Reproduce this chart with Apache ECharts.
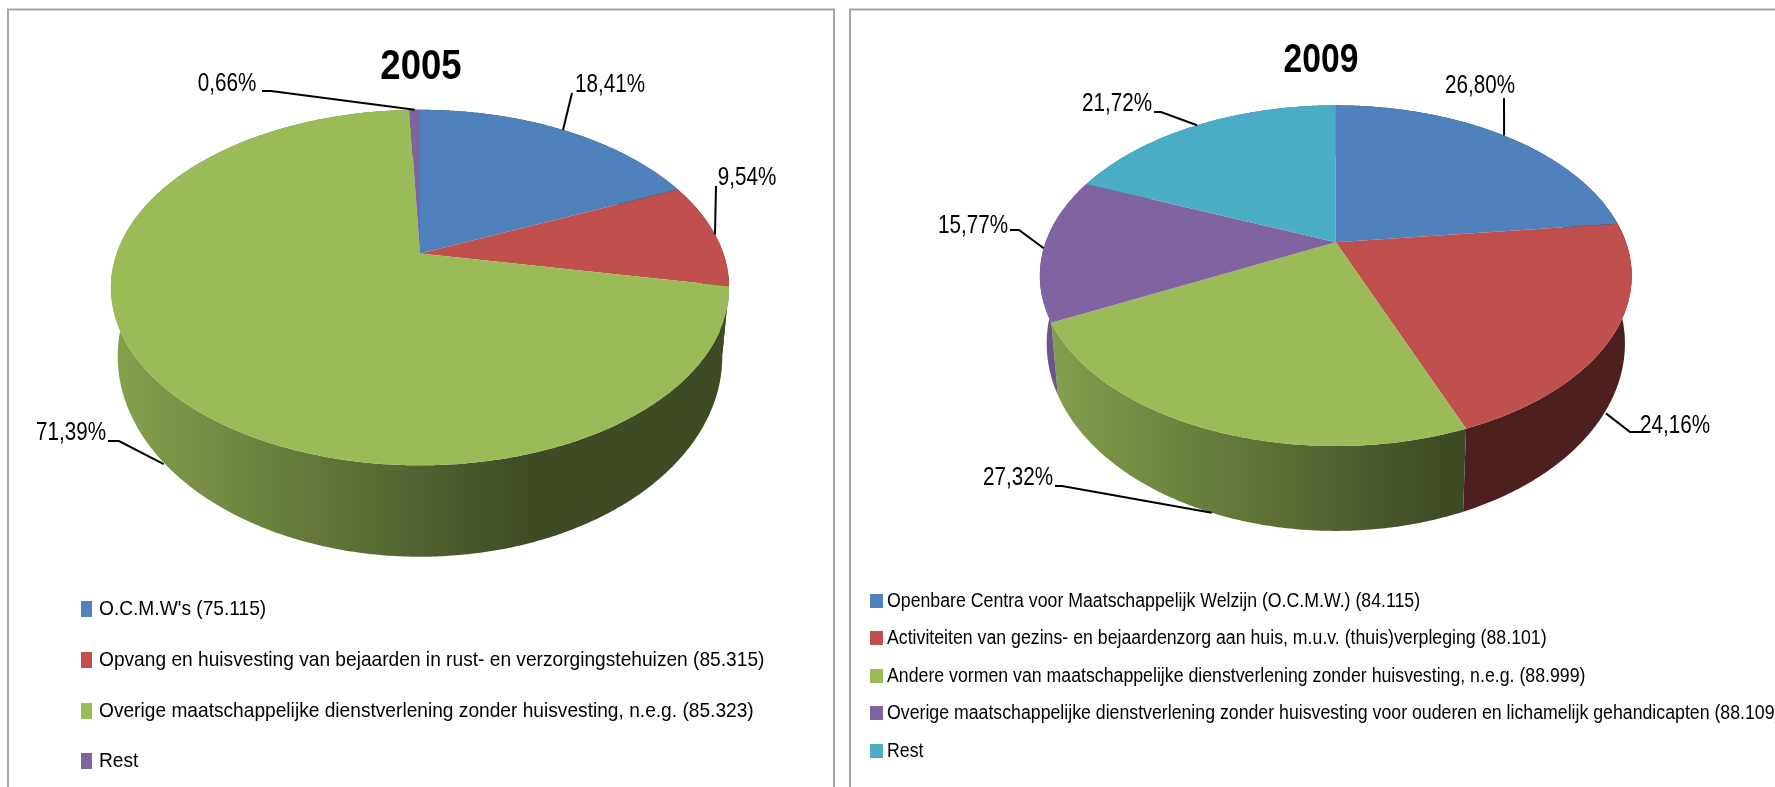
<!DOCTYPE html>
<html lang="nl">
<head>
    <meta charset="UTF-8" />
    <title>2005 - 2009</title>
    <script src="https://cdn.jsdelivr.net/npm/echarts@6/dist/echarts.min.js"></script>
    <style>
        html, body { margin: 0; padding: 0; background: #fff; overflow: hidden; }
        #main { width: 1775px; height: 787px; }
    </style>
</head>
<body>
    <div id="main"></div>
    <script type="text/javascript">
        // data
        var years = ['2005', '2009'];
        var names2005 = [
            "O.C.M.W's (75.115)",
            'Opvang en huisvesting van bejaarden in rust- en verzorgingstehuizen (85.315)',
            'Overige maatschappelijke dienstverlening zonder huisvesting, n.e.g. (85.323)',
            'Rest'
        ];
        var values2005 = [18.41, 9.54, 71.39, 0.66];
        var names2009 = [
            'Openbare Centra voor Maatschappelijk Welzijn (O.C.M.W.) (84.115)',
            'Activiteiten van gezins- en bejaardenzorg aan huis, m.u.v. (thuis)verpleging (88.101)',
            'Andere vormen van maatschappelijke dienstverlening zonder huisvesting, n.e.g. (88.999)',
            'Overige maatschappelijke dienstverlening zonder huisvesting voor ouderen en lichamelijk gehandicapten (88.109)',
            'Rest'
        ];
        var values2009 = [26.80, 24.16, 27.32, 15.77, 21.72];

        var colors = ['#4F81BD', '#C0504D', '#9BBB59', '#8064A2', '#4BACC6'];
        var font = '"Liberation Sans", sans-serif';

        // the pie is a tilted disc seen in perspective, so the centre sits above the middle of the ellipse
        // the lower rim is a bit narrower and taller than the top one
        var pies = [{
            year: years[0], names: names2005, values: values2005,
            cx: 420, cy: 253.6, w: 303.4, h: 171.3, k: 0.191, depth: 64.5, lowerW: 0.978, lowerH: 1.127,
            // label centre, leader start, leader elbow
            labels: [
                [[610, 85], [572, 93], [572, 93]],
                [[747, 178], [716, 186], [716, 186]],
                [[71, 433], [108, 441], [119, 441]],
                [[227, 84], [262, 91], [271, 91]]
            ],
            anchorDepth: [0, 0, 1.02, 0],
            legend: { x: 81, rows: [609, 660, 711, 761], w: 11, h: 16, textX: 99, size: 21, scale: 0.912 }
        }, {
            year: years[1], names: names2009, values: values2009,
            cx: 1335.8, cy: 242.3, w: 290.2, h: 163.8, k: 0.196, depth: 64.5, lowerW: 0.977, lowerH: 1.1,
            labels: [
                [[1480, 86], [1504, 98], [1504, 98]],
                [[1675, 426], [1641, 432], [1630, 432]],
                [[1018, 478], [1055, 486], [1062, 486]],
                [[973, 226], [1010, 230], [1019, 230]],
                [[1117, 104], [1154, 112], [1161, 112]]
            ],
            anchorDepth: [0, 1.05, 1, 0, 0],
            legend: { x: 870, rows: [601, 638, 676, 713, 751], w: 13, h: 14, textX: 887, size: 20, scale: 0.886 }
        }];

        function shade(hex, f) {
            var c = echarts.color.parse(hex);
            return 'rgb(' + Math.round(c[0] * f) + ',' + Math.round(c[1] * f) + ',' + Math.round(c[2] * f) + ')';
        }

        // angle in degrees, clockwise from the top, to a pixel on the rim
        function rimPoint(pie, deg, lower) {
            var a = deg * Math.PI / 180;
            var u = Math.sin(a), v = Math.cos(a);
            var d = 1 + pie.k * v;
            return [
                pie.cx + (lower ? pie.lowerW : 1) * pie.w * u / d,
                pie.cy - (lower ? pie.lowerH : 1) * pie.h * v / d + (lower ? pie.depth : 0)
            ];
        }

        function sliceAngles(values) {
            var total = values.reduce(function (a, b) { return a + b; }, 0);
            var run = 0;
            return values.map(function (val) {
                var start = run / total * 360;
                run += val;
                return [start, run / total * 360];
            });
        }

        function arc(pie, from, to, lower) {
            var pts = [];
            var n = Math.max(2, Math.ceil((to - from) * 2));
            for (var i = 0; i <= n; i++) {
                pts.push(rimPoint(pie, from + (to - from) * i / n, lower));
            }
            return pts;
        }

        function sideItem(pie, i) {
            var ang = sliceAngles(pie.values)[i];
            var halfW = pie.w / Math.sqrt(1 - pie.k * pie.k);
            var pts = arc(pie, ang[0], ang[1], false).concat(arc(pie, ang[0], ang[1], true).reverse());
            return {
                type: 'polygon',
                shape: { points: pts },
                style: {
                    fill: new echarts.graphic.LinearGradient(pie.cx - halfW, 0, pie.cx + halfW, 0, [
                        { offset: 0, color: shade(colors[i], 0.86) },
                        { offset: 0.68, color: shade(colors[i], 0.4) },
                        { offset: 1, color: shade(colors[i], 0.4) }
                    ], true)
                }
            };
        }

        function sliceItem(pie, i) {
            var ang = sliceAngles(pie.values)[i];
            var mid = (ang[0] + ang[1]) / 2;
            var top = rimPoint(pie, mid, false);
            var bottom = rimPoint(pie, mid, true);
            var t = pie.anchorDepth[i];
            var anchor = [top[0] + (bottom[0] - top[0]) * t, top[1] + (bottom[1] - top[1]) * t];
            var lab = pie.labels[i];
            return {
                type: 'group',
                children: [{
                    type: 'polygon',
                    shape: { points: [[pie.cx, pie.cy]].concat(arc(pie, ang[0], ang[1], false)) },
                    style: { fill: colors[i] }
                }, {
                    type: 'polyline',
                    shape: { points: [lab[1], lab[2], anchor] },
                    style: { stroke: '#000', lineWidth: 2, fill: null }
                }, {
                    type: 'text',
                    x: lab[0][0],
                    y: lab[0][1],
                    scaleX: 0.825,
                    style: {
                        text: pie.values[i].toFixed(2).replace('.', ',') + '%',
                        align: 'center',
                        verticalAlign: 'middle',
                        font: '25px ' + font,
                        fill: '#000'
                    }
                }]
            };
        }

        function legendItem(pie, i) {
            var lg = pie.legend;
            return {
                type: 'group',
                children: [{
                    type: 'rect',
                    shape: { x: lg.x, y: lg.rows[i] - lg.h / 2, width: lg.w, height: lg.h },
                    style: { fill: colors[i] }
                }, {
                    type: 'text',
                    x: lg.textX,
                    y: lg.rows[i],
                    scaleX: lg.scale,
                    style: {
                        text: pie.names[i],
                        align: 'left',
                        verticalAlign: 'middle',
                        font: lg.size + 'px ' + font,
                        fill: '#000'
                    }
                }]
            };
        }

        var series = [];
        pies.forEach(function (pie) {
            series.push({
                name: 'zijkant ' + pie.year,
                type: 'custom',
                coordinateSystem: 'none',
                silent: true,
                z: 2,
                data: pie.values,
                renderItem: function (params) {
                    return sideItem(pie, params.dataIndex);
                }
            });
            series.push({
                name: pie.year,
                type: 'custom',
                coordinateSystem: 'none',
                silent: true,
                z: 3,
                data: pie.values,
                renderItem: function (params) {
                    return sliceItem(pie, params.dataIndex);
                }
            });
            // native legend text cannot be squeezed, so the rows are drawn here
            series.push({
                name: 'legenda ' + pie.year,
                type: 'custom',
                coordinateSystem: 'none',
                silent: true,
                z: 3,
                data: pie.names,
                renderItem: function (params) {
                    return legendItem(pie, params.dataIndex);
                }
            });
        });

        function titleText(text, x, y, size, scale) {
            return {
                type: 'text',
                silent: true,
                x: x,
                y: y,
                scaleX: scale,
                z: 5,
                style: {
                    text: text,
                    align: 'center',
                    verticalAlign: 'middle',
                    font: 'bold ' + size + 'px ' + font,
                    fill: '#000'
                }
            };
        }

        var chart = echarts.init(document.getElementById('main'), null, { renderer: 'canvas' });
        chart.setOption({
            animation: false,
            backgroundColor: '#fff',
            graphic: [{
                type: 'rect',
                silent: true,
                z: -1,
                shape: { x: 8, y: 9.5, width: 826, height: 800 },
                style: { fill: '#fff', stroke: '#a6a6a6', lineWidth: 2 }
            }, {
                type: 'rect',
                silent: true,
                z: -1,
                shape: { x: 850, y: 9.5, width: 960, height: 800 },
                style: { fill: '#fff', stroke: '#a6a6a6', lineWidth: 2 }
            },
            titleText(years[0], 421, 67, 43, 0.85),
            titleText(years[1], 1321, 61, 41, 0.82)],
            series: series
        });
    </script>
</body>
</html>
